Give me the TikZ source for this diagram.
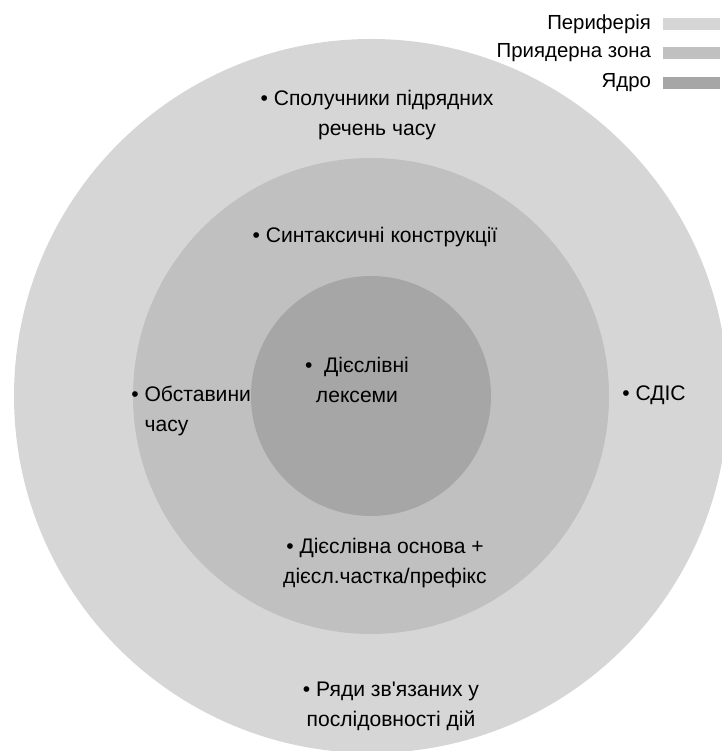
\documentclass[tikz,border=0pt]{standalone}
\usepackage{fontspec}
\setmainfont[Ligatures=TeXOff]{Liberation Sans}
\usepackage{tikz}
\usetikzlibrary{positioning}
\usepackage{xcolor}
\definecolor{periph}{RGB}{214,214,214}
\definecolor{nearzone}{RGB}{192,192,192}
\definecolor{corezone}{RGB}{166,166,166}

\begin{document}
\begin{tikzpicture}[
    x=0.02cm, y=0.02cm,
    lbl/.style={inner sep=0pt, align=center, font=\fontsize{12}{17}\selectfont},
    lleft/.style={lbl, align=left},
    swatch/.style={minimum width=1.14cm, minimum height=0.24cm, inner sep=0pt},
    key/.style={inner sep=0pt, font=\fontsize{11.6}{17}\selectfont},
    node distance=0.22cm
]
\useasboundingbox (0,0) rectangle (721,751);

% zones
\fill[periph] (371,355) circle (357);
\fill[nearzone] (371,355) circle (238);
\fill[corezone] (371,355) circle (120);

% labels
\node[lbl] (spol) at (377,636) {• Сполучники підрядних\\речень часу};
\node[lbl] (synt) at (375,514) {• Синтаксичні конструкції};
\node[lbl] (diesl) at (357,371) {• \ Дієслівні\\лексеми};
\node[lleft, anchor=west] (obst) at (131,340) {• Обставини\\\hphantom{• }часу};
\node[lbl, anchor=west] (sdis) at (622,356) {• СДІС};
\node[lbl] (osnova) at (385,188) {• Дієслівна основа +\\дієсл.частка/префікс};
\node[lbl] (ryady) at (391,45) {• Ряди зв'язаних у\\послідовності дій};

% legend
\node[swatch, fill=periph, anchor=east] (swper) at (720,727) {};
\node[swatch, fill=nearzone, anchor=east] (swnear) at (720,698) {};
\node[swatch, fill=corezone, anchor=east] (swcore) at (720,668) {};
\node[key, left=of swper] (kper) {Периферія};
\node[key, left=of swnear] (knear) {Приядерна зона};
\node[key, left=of swcore] (kcore) {Ядро};
\end{tikzpicture}
\end{document}
